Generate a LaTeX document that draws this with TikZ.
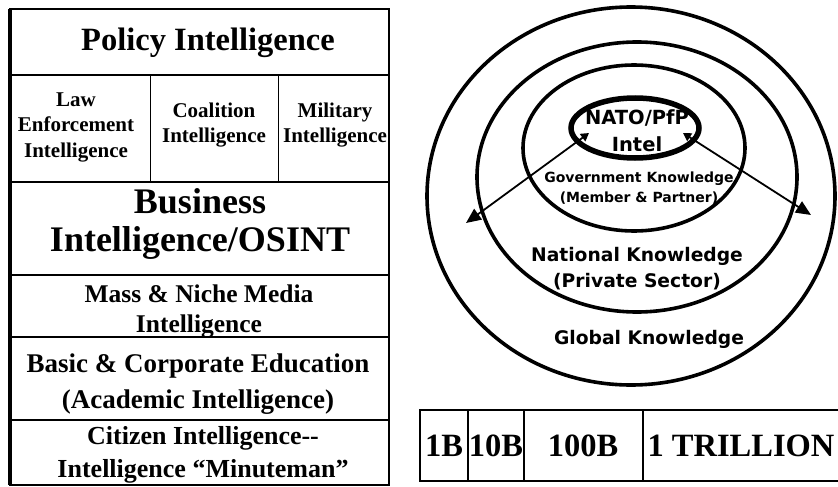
\documentclass[tikz,border=0pt]{standalone}
\usepackage{fontspec}
\setmainfont{Liberation Serif}
\newfontfamily\knsans{DejaVu Sans}
\usetikzlibrary{arrows.meta,shapes.geometric}
\newcommand{\fs}[2]{\fontsize{#1}{#2}\selectfont}
\tikzset{
  frame/.style={line width=1.6pt, draw=black},
  thinline/.style={line width=1.2pt, draw=black},
  ring/.style={line width=3.6pt, draw=black},
  natoring/.style={line width=5.5pt, draw=black},
  serifbox/.style 2 args={inner sep=0pt, align=center, font=\bfseries\fs{#1}{#2}},
  sansbox/.style 2 args={inner sep=0pt, align=center, font=\knsans\bfseries\fs{#1}{#2}},
  spread/.style={line width=1.8pt, {Triangle[length=8pt,width=9pt]}-{Triangle[length=15pt,width=13pt]}},
}
\begin{document}
\begin{tikzpicture}[x=1pt,y=-1pt]
\useasboundingbox (0,0) rectangle (838,487);
\fill[white] (0,0) rectangle (838,487);

% ---------- left table ----------
\draw[frame] (10,9) rectangle (389,485);
\draw[line width=3.5pt] (10,9) -- (10,485);
\draw[thinline] (10,75) -- (389,75);
\draw[thinline] (10,182) -- (389,182);
\draw[thinline] (10,275) -- (389,275);
\draw[thinline] (10,337) -- (389,337);
\draw[thinline] (10,420) -- (389,420);
\draw[line width=0.9pt] (150,75) -- (150,182);
\draw[line width=0.9pt] (278,75) -- (278,182);

\node[serifbox={32.5}{36}] (policy) at (208,43) {Policy Intelligence};
\node[serifbox={21}{25.5}] (law) at (76,127) {Law\\Enforcement\\Intelligence};
\node[serifbox={21}{25.5}] (coal) at (214,125) {Coalition\\Intelligence};
\node[serifbox={21}{25.5}] (mil) at (335,125) {Military\\Intelligence};
\node[serifbox={36}{38}] (bus) at (200,224) {Business\\Intelligence/OSINT};
\node[serifbox={25.5}{30}] (mass) at (199,311) {Mass \& Niche Media\\Intelligence};
\node[serifbox={27}{36}] (basic) at (198,384) {Basic \& Corporate Education\\(Academic Intelligence)};
\node[serifbox={26}{33}] (cit) at (203,455) {Citizen Intelligence-{}-\\Intelligence “Minuteman”};

% ---------- circles ----------
\draw[ring] (631,196) ellipse [x radius=204, y radius=189];
\draw[ring] (637,177) ellipse [x radius=160, y radius=135];
\draw[ring] (634,148) ellipse [x radius=111, y radius=83];
\node[natoring, ellipse, minimum width=128pt, minimum height=60pt, inner sep=0pt] (nato) at (635,128) {};
\node[sansbox={19.5}{27}] (natotxt) at (637,131) {NATO/PfP\\Intel};
\node[sansbox={14}{20}] (gov) at (639,188) {Government Knowledge\\(Member \& Partner)};
\node[sansbox={18.7}{26}] (nat) at (637,269) {National Knowledge\\(Private Sector)};
\node[sansbox={18.7}{22}] (glob) at (649,339) {Global Knowledge};

\coordinate (la) at (589,133);
\coordinate (lb) at (466,223);
\coordinate (ra) at (683,133);
\coordinate (rb) at (811,215);
\draw[spread] (la) -- (lb);
\draw[spread] (ra) -- (rb);

% ---------- scale table ----------
\draw[thinline] (846,410) -- (420,410) -- (420,481) -- (846,481);
\draw[thinline] (468,410) -- (468,481);
\draw[thinline] (524,410) -- (524,481);
\draw[thinline] (643,410) -- (643,481);
\node[serifbox={32.5}{36}] (b1) at (444,446) {1B};
\node[serifbox={32.5}{36}] (b10) at (496,446) {10B};
\node[serifbox={32.5}{36}] (b100) at (583,446) {100B};
\node[serifbox={32.5}{36}] (t1) at (741,446) {1 TRILLION};
\end{tikzpicture}
\end{document}
